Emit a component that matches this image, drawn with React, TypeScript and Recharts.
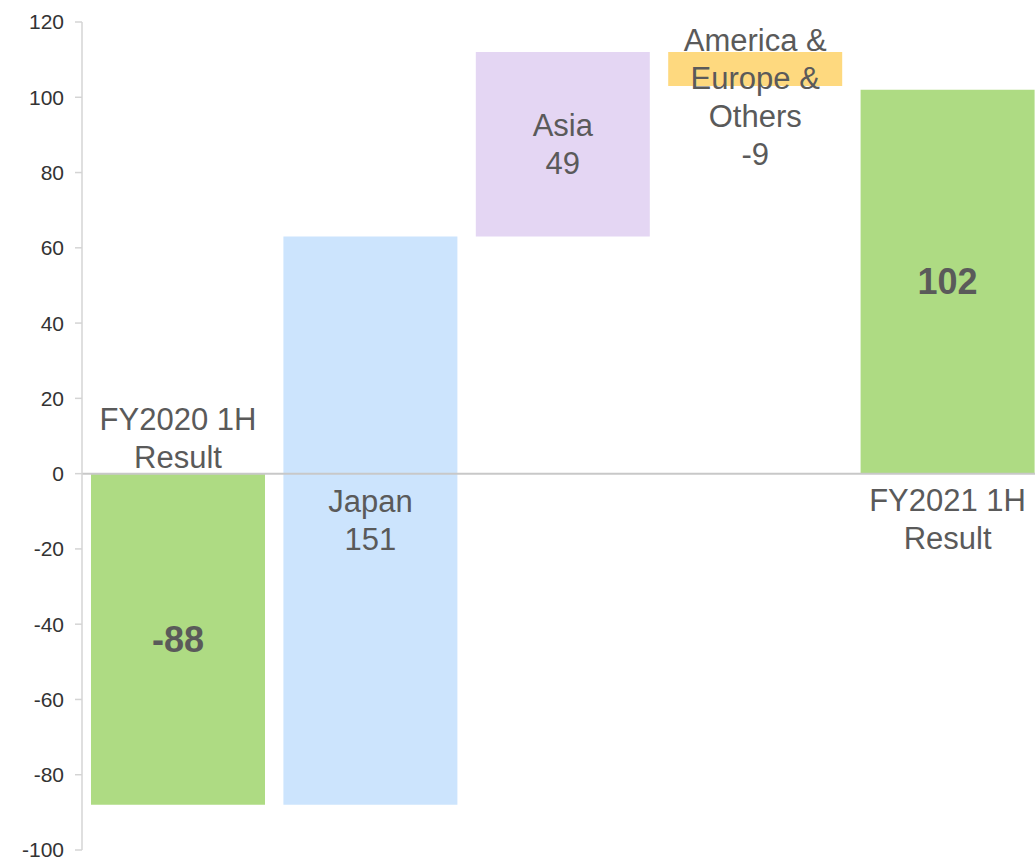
import React from 'react';
import { BarChart, Bar, XAxis, YAxis, Cell, LabelList, ReferenceLine } from 'recharts';

const categories = ['FY2020 1H Result', 'Japan', 'Asia', 'America & Europe & Others', 'FY2021 1H Result'];
const categoryLines = [['FY2020 1H', 'Result'], ['Japan'], ['Asia'], ['America &', 'Europe &', 'Others'], ['FY2021 1H', 'Result']];
const changes = [-88, 151, 49, -9, 102];
const barStarts = [0, -88, 63, 112, 0];
const barEnds = [-88, 63, 112, 103, 102];
const barColors = ['#aedb83', '#cce4fd', '#e4d6f3', '#fed97f', '#aedb83'];
const yTicks = [-100, -80, -60, -40, -20, 0, 20, 40, 60, 80, 100, 120];

const data = categories.map((name, i) => ({
  name,
  range: [Math.min(barStarts[i], barEnds[i]), Math.max(barStarts[i], barEnds[i])],
}));

const FONT = '"Liberation Sans", Arial, sans-serif';
const TEXT = '#5a5a5a';
const LINE_H = 38;

const renderLabel = (props: any) => {
  const { x, y, width, height, index } = props;
  const top = Math.min(y, y + height);
  const bottom = Math.max(y, y + height);
  const cx = x + width / 2;
  const cy = (top + bottom) / 2;
  const lines = categoryLines[index];
  const value = String(changes[index]);
  const els: React.ReactNode[] = [];
  const textProps = { textAnchor: 'middle' as const, dominantBaseline: 'central' as const, fontFamily: FONT, fill: TEXT };
  if (index === 0 || index === 4) {
    // category name outside bar, value bold inside
    if (index === 0) {
      lines.forEach((l, k) => {
        const ly = top - 16 - (lines.length - 1 - k) * LINE_H;
        els.push(<text key={'c' + k} x={cx} y={ly} fontSize={31} {...textProps}>{l}</text>);
      });
    } else {
      lines.forEach((l, k) => {
        const ly = bottom + 27 + k * LINE_H;
        els.push(<text key={'c' + k} x={cx} y={ly} fontSize={31} {...textProps}>{l}</text>);
      });
    }
    els.push(<text key="v" x={cx} y={cy} fontSize={36} fontWeight="bold" {...textProps}>{value}</text>);
  } else {
    const all = [...lines, value];
    let startY: number;
    if (index === 3) {
      startY = top - 12;
    } else {
      startY = cy - ((all.length - 1) * LINE_H) / 2;
    }
    all.forEach((l, k) => {
      els.push(<text key={'c' + k} x={cx} y={startY + k * LINE_H} fontSize={31} {...textProps}>{l}</text>);
    });
  }
  return <g>{els}</g>;
};

export default function App() {
  return (
    <div style={{ position: 'fixed', left: 0, top: 0, width: 1035, height: 859, overflow: 'hidden', background: '#fff' }}>
      <BarChart
        width={1050}
        height={859}
        data={data}
        margin={{ top: 22, right: 6, bottom: 9, left: 0 }}
        barCategoryGap={9}
      >
        <XAxis dataKey="name" hide />
        <YAxis
          width={82}
          domain={[-100, 120]}
          ticks={yTicks}
          interval={0}
          allowDataOverflow
          axisLine={{ stroke: '#d4d4d4', strokeWidth: 1.5 }}
          tickLine={{ stroke: '#d4d4d4', strokeWidth: 1.5 }}
          tickSize={7}
          tickMargin={11}
          tick={{ fill: '#333333', fontSize: 21, fontFamily: FONT }}
        />
        <Bar dataKey="range" isAnimationActive={false}>
          {data.map((d, i) => (
            <Cell key={i} fill={barColors[i]} />
          ))}
          <LabelList dataKey="range" content={renderLabel} />
        </Bar>
        <ReferenceLine y={0} stroke="#c8c8c8" strokeWidth={2} />
      </BarChart>
    </div>
  );
}
